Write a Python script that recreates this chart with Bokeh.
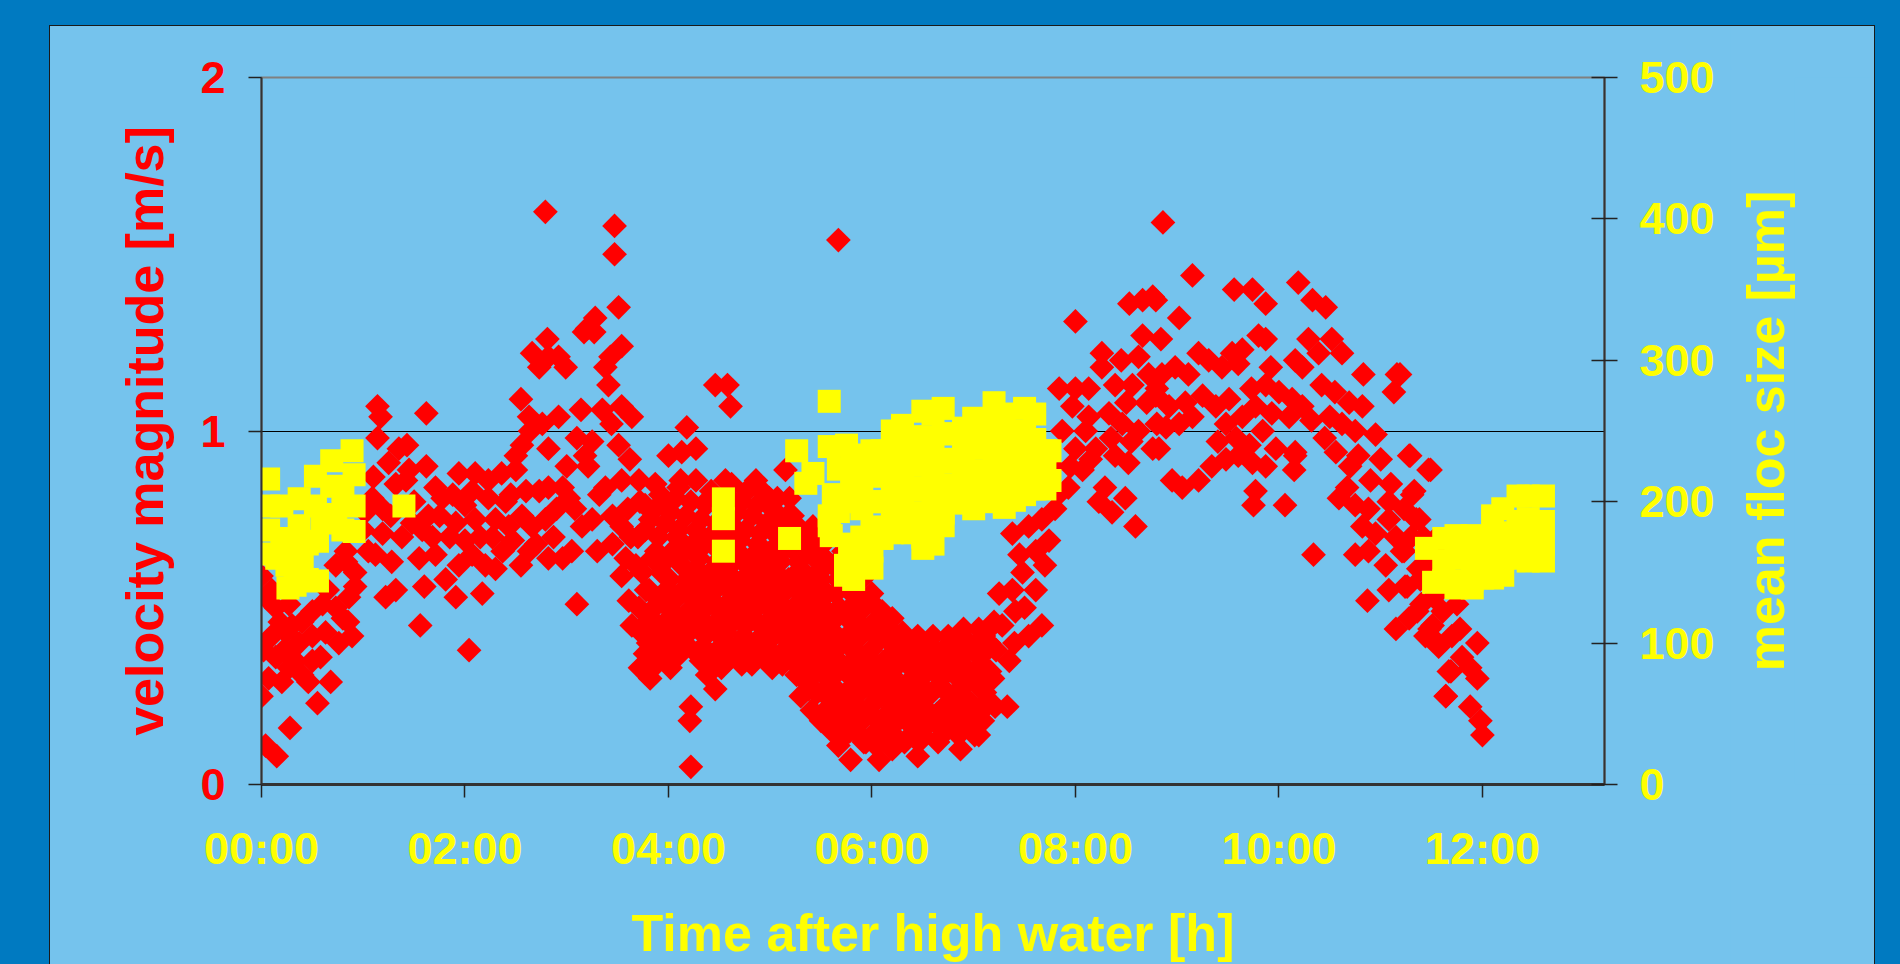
import math
from bokeh.plotting import figure
from bokeh.layouts import row, column
from bokeh.models import Range1d, LinearAxis, FixedTicker
from bokeh.embed import file_html
from bokeh.resources import INLINE

# ---------------- data ----------------
x_tick_hours = [0, 2, 4, 6, 8, 10, 12]
x_tick_labels = ["00:00", "02:00", "04:00", "06:00", "08:00", "10:00", "12:00"]
vel_ticks = [0, 1, 2]
floc_ticks = [0, 100, 200, 300, 400, 500]

# velocity magnitude [m/s] vs time after high water [h]
red_hours = [
    0.00, 0.04, 0.14, 0.27, 0.40, 0.50, 0.60, 0.73, 0.86, 0.73,
    0.83, 0.10, 0.24, 0.37, 0.50, 0.63, 0.76, 0.89, 0.14, 0.27,
    0.40, 0.07, 0.00, 0.20, 0.33, 0.46, 0.68, 0.55, 0.28, 0.04,
    0.15, 0.02, 0.18, 0.30, 0.58, 0.85, 0.92, 0.65, 0.10, 0.22,
    1.14, 1.17, 1.62, 1.14, 1.35, 1.43, 1.25, 1.32, 1.42, 1.09,
    1.19, 1.62, 1.71, 1.78, 1.64, 1.48, 1.58, 1.94, 2.10, 2.23,
    2.36, 2.50, 2.07, 2.23, 2.00, 1.91, 2.10, 2.30, 2.43, 2.56,
    2.66, 2.79, 2.73, 2.82, 1.71, 1.94, 2.07, 2.30, 2.63, 2.82,
    2.37, 1.81, 1.91, 2.17, 1.60, 1.32, 1.22, 1.28, 0.92, 1.12,
    1.19, 0.83, 1.56, 2.04, 1.00, 1.05, 1.10, 1.27, 1.38, 1.50,
    1.55, 1.68, 1.85, 1.88, 2.00, 2.15, 2.20, 2.27, 2.40, 2.47,
    2.55, 2.60, 2.70, 2.87, 2.90, 2.55, 2.63, 2.56, 2.64, 2.76,
    2.82, 2.50, 2.66, 2.73, 2.82, 2.81, 2.79,
    3.47, 3.47, 3.51, 3.28, 3.20, 3.17, 3.27, 3.54, 3.43, 3.38,
    3.41, 2.99, 2.92, 2.92, 3.14, 3.35, 3.54, 3.64, 3.44, 3.51,
    3.18, 3.21, 2.96, 3.02, 3.15, 3.32, 3.38, 3.54, 3.71, 3.87,
    4.00, 4.13, 4.27, 3.77, 3.97, 4.10, 4.27, 4.56, 4.86, 5.15,
    4.99, 5.19, 2.96, 3.05, 3.54, 3.58, 3.54, 3.68, 3.10, 4.46,
    4.58, 4.61, 5.67, 4.18, 3.00, 3.08, 3.10, 3.25, 3.25, 3.30,
    3.45, 3.45, 3.60, 3.62,
    3.63, 3.61, 3.64,
    3.72, 3.70, 3.74, 3.71, 3.73, 3.72,
    3.82, 3.84, 3.81, 3.83, 3.80, 3.82,
    3.92, 3.90, 3.93, 3.91, 3.94, 3.92,
    4.02, 4.04, 4.01, 4.03, 4.00, 4.02,
    4.12, 4.10, 4.13, 4.11, 4.14, 4.12,
    4.22, 4.24, 4.21, 4.23, 4.20, 4.22, 4.21, 4.22,
    4.32, 4.30, 4.33, 4.31, 4.34, 4.32,
    4.42, 4.44, 4.41, 4.43, 4.40, 4.42, 4.46,
    4.52, 4.50, 4.53, 4.51, 4.54, 4.52,
    4.62, 4.64, 4.61, 4.63, 4.60, 4.62,
    4.72, 4.70, 4.73, 4.71, 4.74, 4.72,
    4.82, 4.84, 4.81, 4.83, 4.80, 4.82,
    4.92, 4.90, 4.93, 4.91, 4.94, 4.92,
    5.02, 5.04, 5.01, 5.03, 5.00, 5.02,
    5.12, 5.10, 5.13, 5.11, 5.14, 5.12,
    5.22, 5.24, 5.21, 5.23, 5.20, 5.22,
    5.32, 5.30, 5.33, 5.31, 5.34, 5.32, 5.30,
    5.42, 5.44, 5.41, 5.43, 5.40, 5.42, 5.41,
    5.52, 5.50, 5.53, 5.51, 5.54, 5.52, 5.50,
    5.62, 5.64, 5.61, 5.63, 5.60, 5.62, 5.61,
    5.72, 5.70, 5.73, 5.71, 5.74, 5.72, 5.70,
    5.80, 5.82, 5.79, 5.81, 5.78, 5.80, 5.79,
    3.77, 3.78, 3.76, 3.77,
    3.87, 3.88, 3.86, 3.87, 3.88,
    3.97, 3.96, 3.98, 3.97, 3.96,
    4.07, 4.08, 4.06, 4.07, 4.08,
    4.17, 4.16, 4.18, 4.17, 4.16,
    4.27, 4.28, 4.26, 4.27, 4.28,
    4.37, 4.36, 4.38, 4.37, 4.36, 4.38,
    4.47, 4.48, 4.46, 4.47, 4.48,
    4.57, 4.56, 4.58, 4.57, 4.56, 4.58,
    4.67, 4.68, 4.66, 4.67, 4.68,
    4.77, 4.76, 4.78, 4.77, 4.76, 4.78,
    4.87, 4.88, 4.86, 4.87, 4.88,
    4.97, 4.96, 4.98, 4.97, 4.96,
    5.07, 5.08, 5.06, 5.07, 5.08, 5.06,
    5.17, 5.16, 5.18, 5.17, 5.16,
    5.27, 5.28, 5.26, 5.27, 5.28, 5.26,
    5.37, 5.36, 5.38, 5.37, 5.36, 5.38,
    5.47, 5.48, 5.46, 5.47, 5.48, 5.46,
    5.57, 5.56, 5.58, 5.57, 5.56, 5.58,
    5.67, 5.68, 5.66, 5.67, 5.68, 5.66, 5.67,
    5.77, 5.76, 5.78, 5.77, 5.76, 5.78,
    5.90, 5.92, 5.89, 5.91, 5.88, 5.90, 5.92,
    6.00, 6.02, 5.99, 6.01, 5.98, 6.00,
    6.10, 6.08, 6.11, 6.09, 6.12, 6.07,
    6.20, 6.22, 6.19, 6.21, 6.18, 6.20,
    6.30, 6.28, 6.31, 6.29, 6.32,
    6.40, 6.42, 6.39, 6.41,
    6.50, 6.48, 6.51, 6.49, 6.45,
    6.60, 6.62, 6.59, 6.61,
    6.70, 6.68, 6.71, 6.69,
    6.80, 6.82, 6.79, 6.81,
    6.90, 6.88, 6.91, 6.89, 6.87,
    7.00, 7.02, 6.99, 7.01,
    7.10, 7.08, 7.11, 7.09,
    7.20, 7.22, 7.19, 7.21,
    5.85, 5.86, 5.84, 5.85, 5.86, 5.84,
    5.95, 5.96, 5.94, 5.95, 5.96, 5.94,
    6.05, 6.06, 6.04, 6.05, 6.06, 6.04,
    6.15, 6.16, 6.14, 6.15, 6.16,
    6.25, 6.26, 6.24, 6.25, 6.26,
    6.35, 6.36, 6.34, 6.35,
    6.45, 6.46, 6.44, 6.45, 6.46,
    6.55, 6.56, 6.54, 6.55,
    6.65, 6.66, 6.64, 6.65,
    6.75, 6.76, 6.74, 6.75,
    6.85, 6.86, 6.84, 6.85,
    6.95, 6.96, 6.94, 6.95,
    7.05, 7.06, 7.04, 7.05,
    7.15, 7.16, 7.14,
    7.25, 7.38, 7.48, 7.61, 7.67, 7.54, 7.28, 7.15, 7.41, 7.38,
    7.54, 7.67, 7.74, 7.61, 7.80, 7.83, 7.93, 7.33, 7.05, 7.45,
    7.50, 7.70, 7.78, 7.35, 7.40,
    8.00, 8.66, 8.76, 8.53, 8.26, 8.26, 8.66, 8.62, 8.39, 8.56,
    8.72, 7.84, 8.00, 8.13, 7.97, 8.13, 8.33, 8.46, 8.62, 8.76,
    7.87, 8.00, 8.20, 8.39, 8.52, 8.07, 8.29, 8.23, 8.36, 8.49,
    8.59, 8.10, 8.45, 8.50, 8.70, 8.35, 8.55, 8.15, 7.95, 8.80,
    8.80,
    8.86, 9.15, 9.56, 9.74, 9.87, 10.19, 10.33, 10.46, 9.02, 8.79,
    8.84, 9.21, 9.54, 9.64, 9.80, 9.87, 9.92, 10.16, 10.23, 10.29,
    10.39, 10.52, 10.62, 10.83, 11.16, 11.13, 8.85, 8.98, 9.11, 9.31,
    9.44, 9.60, 9.73, 9.87, 10.00, 10.13, 10.42, 10.55, 10.69, 10.82,
    8.79, 8.92, 9.08, 9.25, 9.38, 9.51, 9.64, 9.77, 9.93, 10.10,
    10.23, 10.32, 10.50, 10.62, 10.75, 10.95, 8.89, 9.02, 9.15, 9.48,
    9.58, 9.71, 9.84, 9.97, 10.16, 10.56, 10.78, 8.82, 8.95, 9.05,
    9.21, 9.34, 9.48, 9.60, 9.74, 9.87, 10.16, 10.15, 9.77, 9.75,
    10.06,
    10.67, 10.59, 10.75, 10.88, 11.08, 11.28, 11.47, 11.31, 11.35, 10.82,
    10.95, 11.08, 11.15, 11.21, 11.05, 10.75, 10.34, 10.88, 11.08, 11.24,
    11.37, 11.40, 11.28, 11.15, 10.87, 11.51, 11.61, 11.57, 11.67, 11.64,
    11.44,
    11.19, 11.29, 11.49, 11.33, 11.38, 11.23, 11.23, 11.52, 11.26, 11.39,
    11.36, 11.52, 11.75, 11.48, 11.56, 11.78, 11.95, 11.69, 11.88, 11.95,
    11.64, 11.88, 11.98, 12.00,
    10.45, 10.70, 10.90, 11.00, 11.10, 11.30, 11.45, 11.55, 11.65, 11.70,
    11.80, 11.42, 11.60,
    0.50, 0.80, 1.02, 1.45, 1.75, 2.45, 3.88, 4.07, 4.37, 4.77,
    5.07, 5.27, 5.47, 5.67, 5.95, 6.25, 6.55, 6.85, 7.15, 9.40,
]
red_velocity = [
    0.59, 0.53, 0.50, 0.51, 0.46, 0.49, 0.51, 0.50, 0.53, 0.62,
    0.63, 0.42, 0.43, 0.40, 0.42, 0.43, 0.40, 0.42, 0.36, 0.33,
    0.31, 0.30, 0.25, 0.29, 0.35, 0.29, 0.29, 0.23, 0.16, 0.11,
    0.08, 0.38, 0.46, 0.45, 0.36, 0.46, 0.56, 0.55, 0.55, 0.38,
    1.07, 1.04, 1.05, 0.98, 0.95, 0.96, 0.91, 0.85, 0.86, 0.81,
    0.78, 0.90, 0.84, 0.81, 0.76, 0.74, 0.72, 0.88, 0.88, 0.86,
    0.88, 0.89, 0.83, 0.81, 0.79, 0.74, 0.75, 0.75, 0.73, 0.76,
    0.73, 0.75, 0.83, 0.84, 0.65, 0.62, 0.65, 0.61, 0.66, 0.64,
    0.66, 0.58, 0.53, 0.54, 0.56, 0.55, 0.53, 0.63, 0.60, 0.65,
    0.71, 0.66, 0.45, 0.38, 0.72, 0.66, 0.87, 0.76, 0.70, 0.80,
    0.64, 0.70, 0.70, 0.82, 0.69, 0.70, 0.62, 0.70, 0.80, 0.69,
    0.62, 0.83, 0.68, 0.70, 0.78, 1.09, 1.04, 0.96, 1.00, 1.02,
    0.95, 0.93, 1.22, 1.18, 1.21, 1.26, 1.62,
    1.58, 1.50, 1.35, 1.32, 1.29, 1.28, 1.28, 1.24, 1.21, 1.18,
    1.13, 1.18, 1.21, 1.04, 1.06, 1.06, 1.07, 1.04, 1.02, 0.96,
    0.93, 0.90, 0.84, 0.81, 0.73, 0.82, 0.84, 0.86, 0.86, 0.85,
    0.93, 0.94, 0.95, 0.79, 0.79, 0.84, 0.86, 0.86, 0.86, 0.89,
    0.81, 0.81, 0.64, 0.66, 0.73, 0.64, 0.59, 0.62, 0.51, 1.13,
    1.13, 1.07, 1.54, 1.01, 0.90, 0.78, 0.98, 0.75, 0.97, 0.66,
    0.76, 0.68, 0.78, 0.92,
    0.70, 0.52, 0.45,
    0.80, 0.70, 0.60, 0.50, 0.43, 0.33,
    0.75, 0.64, 0.55, 0.47, 0.40, 0.30,
    0.82, 0.70, 0.60, 0.52, 0.44, 0.36,
    0.77, 0.66, 0.58, 0.49, 0.41, 0.33,
    0.86, 0.72, 0.62, 0.54, 0.46, 0.38,
    0.80, 0.68, 0.57, 0.50, 0.43, 0.22, 0.18, 0.05,
    0.75, 0.64, 0.55, 0.47, 0.39, 0.35,
    0.83, 0.71, 0.60, 0.52, 0.44, 0.36, 0.27,
    0.78, 0.66, 0.57, 0.49, 0.41, 0.33,
    0.85, 0.73, 0.62, 0.54, 0.45, 0.37,
    0.80, 0.69, 0.58, 0.50, 0.42, 0.34,
    0.76, 0.65, 0.55, 0.47, 0.39, 0.34,
    0.83, 0.71, 0.61, 0.52, 0.44, 0.36,
    0.78, 0.67, 0.57, 0.49, 0.41, 0.33,
    0.72, 0.63, 0.54, 0.46, 0.38, 0.34,
    0.76, 0.66, 0.58, 0.50, 0.42, 0.35,
    0.70, 0.61, 0.53, 0.45, 0.37, 0.30, 0.25,
    0.73, 0.64, 0.55, 0.47, 0.39, 0.31, 0.21,
    0.68, 0.58, 0.50, 0.42, 0.34, 0.26, 0.18,
    0.62, 0.54, 0.46, 0.38, 0.30, 0.22, 0.15,
    0.66, 0.57, 0.48, 0.40, 0.32, 0.23, 0.13,
    0.60, 0.51, 0.43, 0.35, 0.27, 0.19, 0.07,
    0.72, 0.55, 0.45, 0.37,
    0.78, 0.66, 0.50, 0.42, 0.34,
    0.74, 0.63, 0.55, 0.46, 0.38,
    0.81, 0.70, 0.52, 0.44, 0.36,
    0.76, 0.66, 0.58, 0.48, 0.40,
    0.72, 0.61, 0.52, 0.45, 0.37,
    0.79, 0.68, 0.58, 0.50, 0.42, 0.31,
    0.74, 0.63, 0.55, 0.46, 0.38,
    0.82, 0.70, 0.60, 0.51, 0.43, 0.35,
    0.77, 0.66, 0.56, 0.47, 0.39,
    0.83, 0.72, 0.62, 0.53, 0.45, 0.37,
    0.79, 0.68, 0.58, 0.50, 0.41,
    0.74, 0.64, 0.55, 0.46, 0.38,
    0.81, 0.70, 0.60, 0.52, 0.44, 0.36,
    0.76, 0.67, 0.58, 0.49, 0.41,
    0.73, 0.63, 0.55, 0.47, 0.39, 0.31,
    0.66, 0.57, 0.49, 0.41, 0.33, 0.27,
    0.69, 0.60, 0.51, 0.43, 0.35, 0.26,
    0.63, 0.54, 0.46, 0.38, 0.30, 0.22,
    0.58, 0.50, 0.42, 0.34, 0.26, 0.18, 0.11,
    0.55, 0.47, 0.39, 0.31, 0.23, 0.15,
    0.58, 0.50, 0.42, 0.34, 0.26, 0.18, 0.12,
    0.54, 0.46, 0.38, 0.30, 0.22, 0.14,
    0.49, 0.41, 0.33, 0.25, 0.17, 0.07,
    0.47, 0.39, 0.31, 0.23, 0.15, 0.10,
    0.43, 0.35, 0.27, 0.19, 0.12,
    0.40, 0.32, 0.24, 0.16,
    0.38, 0.30, 0.22, 0.14, 0.08,
    0.42, 0.34, 0.26, 0.18,
    0.38, 0.30, 0.22, 0.14,
    0.41, 0.33, 0.25, 0.17,
    0.44, 0.36, 0.28, 0.20, 0.10,
    0.38, 0.30, 0.22, 0.14,
    0.42, 0.34, 0.26, 0.18,
    0.46, 0.38, 0.30, 0.22,
    0.54, 0.46, 0.38, 0.30, 0.22, 0.15,
    0.52, 0.44, 0.36, 0.28, 0.20, 0.12,
    0.50, 0.42, 0.34, 0.26, 0.18, 0.11,
    0.44, 0.36, 0.28, 0.20, 0.12,
    0.42, 0.34, 0.26, 0.18, 0.12,
    0.38, 0.29, 0.21, 0.13,
    0.42, 0.35, 0.27, 0.19, 0.12,
    0.40, 0.33, 0.25, 0.17,
    0.36, 0.28, 0.20, 0.12,
    0.42, 0.34, 0.26, 0.18,
    0.38, 0.30, 0.22, 0.14,
    0.40, 0.32, 0.24, 0.17,
    0.44, 0.36, 0.28, 0.20,
    0.40, 0.32, 0.24,
    0.54, 0.55, 0.60, 0.55, 0.45, 0.42, 0.45, 0.44, 0.49, 0.71,
    0.73, 0.75, 0.69, 0.66, 0.78, 0.82, 0.84, 0.22, 0.14, 0.65,
    0.50, 0.62, 0.90, 0.35, 0.40,
    1.31, 1.37, 1.38, 1.36, 1.22, 1.18, 1.27, 1.21, 1.13, 1.13,
    1.16, 1.12, 1.12, 1.12, 1.07, 1.04, 1.05, 1.02, 1.00, 0.95,
    1.00, 0.95, 0.95, 0.93, 0.91, 0.89, 0.84, 0.80, 0.77, 0.81,
    0.73, 1.00, 1.20, 1.08, 1.08, 0.98, 0.97, 0.92, 0.90, 1.12,
    1.02,
    1.59, 1.44, 1.40, 1.40, 1.36, 1.42, 1.37, 1.35, 1.32, 1.37,
    1.26, 1.22, 1.22, 1.23, 1.27, 1.26, 1.18, 1.20, 1.18, 1.26,
    1.22, 1.26, 1.22, 1.16, 1.16, 1.11, 1.16, 1.18, 1.16, 1.20,
    1.18, 1.19, 1.12, 1.13, 1.11, 1.09, 1.13, 1.11, 1.08, 1.07,
    1.10, 1.07, 1.08, 1.10, 1.07, 1.09, 1.04, 1.07, 1.05, 1.04,
    1.07, 1.03, 1.04, 1.02, 1.00, 0.99, 1.01, 1.02, 1.04, 1.02,
    0.98, 0.96, 1.00, 0.95, 0.94, 0.94, 0.93, 0.95, 0.86, 0.84,
    0.86, 0.90, 0.92, 0.93, 0.91, 0.90, 0.93, 0.89, 0.83, 0.79,
    0.79,
    0.84, 0.81, 0.79, 0.78, 0.80, 0.93, 0.89, 0.82, 0.75, 0.73,
    0.71, 0.75, 0.70, 0.66, 0.62, 0.65, 0.65, 0.66, 0.55, 0.56,
    0.61, 0.51, 0.47, 0.44, 0.52, 0.45, 0.49, 0.39, 0.32, 0.25,
    0.42,
    1.16, 0.93, 0.89, 0.83, 0.75, 0.78, 0.66, 0.69, 0.56, 0.58,
    0.49, 0.53, 0.51, 0.44, 0.40, 0.44, 0.40, 0.32, 0.33, 0.30,
    0.25, 0.22, 0.18, 0.14,
    0.98, 0.90, 0.86, 0.92, 0.85, 0.70, 0.62, 0.58, 0.56, 0.42,
    0.36, 0.70, 0.65,
    0.35, 0.47, 0.77, 0.89, 0.76, 0.82, 0.65, 0.53, 0.80, 0.62,
    0.73, 0.45, 0.60, 0.35, 0.31, 0.28, 0.26, 0.30, 0.31, 0.97,
]

# mean floc size [um] vs time after high water [h]
yellow_hours = [
    0.07, 0.07, 0.07, 0.07, 0.20, 0.20, 0.25, 0.26, 0.37, 0.37,
    0.40, 0.53, 0.53, 0.55, 0.55, 0.69, 0.69, 0.73, 0.89, 0.91,
    0.91, 0.91, 1.40, 0.15, 0.30, 0.45, 0.60, 0.80, 0.80, 0.45,
    0.33,
    4.54, 4.54, 4.54, 5.19, 5.26, 5.42, 5.35, 5.58, 5.58, 5.67,
    5.67, 5.58, 5.74, 5.74, 5.62, 5.78, 5.80, 5.80, 5.58, 5.60,
    5.82, 5.82, 5.80, 5.75,
    5.90, 5.90, 5.90, 5.90, 5.90,
    6.00, 6.00, 6.00, 6.00, 6.00, 6.00,
    6.10, 6.10, 6.10, 6.10, 6.10,
    6.20, 6.20, 6.20, 6.20, 6.20,
    6.30, 6.30, 6.30, 6.30, 6.30,
    6.40, 6.40, 6.40, 6.40, 6.40,
    6.50, 6.50, 6.50, 6.50, 6.50, 6.50, 6.50,
    6.60, 6.60, 6.60, 6.60, 6.60, 6.60,
    6.70, 6.70, 6.70, 6.70, 6.70, 6.70,
    6.80, 6.80, 6.80, 6.80,
    6.90, 6.90, 6.90, 6.90,
    7.00, 7.00, 7.00, 7.00, 7.00,
    7.10, 7.10, 7.10, 7.10,
    7.20, 7.20, 7.20, 7.20, 7.20,
    7.30, 7.30, 7.30, 7.30, 7.30,
    7.40, 7.40, 7.40, 7.40,
    7.50, 7.50, 7.50, 7.50, 7.50,
    7.60, 7.60, 7.60, 7.60,
    7.70, 7.70, 7.70,
    7.75, 7.75,
    11.45, 11.52, 11.62, 11.62, 11.62, 11.74, 11.74, 11.74, 11.74, 11.90,
    11.90, 11.90, 11.90, 12.00, 12.00, 12.00, 12.10, 12.10, 12.10, 12.10,
    12.20, 12.20, 12.20, 12.20, 12.35, 12.35, 12.35, 12.35, 12.45, 12.45,
    12.45, 12.45, 12.60, 12.60, 12.60, 12.60,
]
yellow_floc = [
    216, 197, 180, 163, 197, 174, 155, 139, 202, 183,
    158, 218, 197, 172, 144, 229, 211, 191, 236, 219,
    197, 179, 197, 160, 170, 170, 185, 205, 180, 145,
    141,
    202, 188, 165, 174, 236, 220, 213, 271, 239, 223,
    193, 183, 155, 148, 205, 170, 200, 230, 190, 176,
    145, 160, 215, 240,
    233, 215, 195, 175, 158,
    236, 218, 200, 182, 165, 153,
    236, 220, 200, 182, 174,
    250, 230, 212, 195, 178,
    254, 236, 218, 200, 182,
    244, 226, 208, 190, 178,
    264, 246, 228, 210, 192, 175, 167,
    262, 242, 224, 205, 187, 170,
    266, 248, 228, 210, 192, 183,
    248, 230, 212, 199,
    252, 235, 218, 201,
    259, 240, 222, 205, 195,
    255, 238, 220, 203,
    270, 252, 234, 216, 200,
    262, 245, 228, 210, 196,
    250, 232, 215, 201,
    266, 248, 230, 212, 205,
    262, 244, 226, 209,
    236, 222, 209,
    236, 215,
    167, 143, 174, 158, 144, 176, 160, 144, 139, 176,
    160, 145, 139, 174, 160, 146, 190, 172, 155, 146,
    195, 178, 162, 148, 204, 186, 170, 160, 204, 188,
    172, 158, 204, 186, 170, 158,
]

assert len(red_hours) == len(red_velocity), (len(red_hours), len(red_velocity))
assert len(yellow_hours) == len(yellow_floc), (len(yellow_hours), len(yellow_floc))

# ---------------- style / layout ----------------
OUTER = "#007AC1"
PANEL = "#75C3ED"
RED = "#FF0000"
YELLOW = "#FFFF00"
FONT = "Liberation Sans"
TICK_FS = "45px"
TITLE_FS = "52px"

# page geometry: light panel spans x 50..1874, y 26..bottom
MAIN_W, SIDE_W, FIG_H = 1680, 144, 938
BORDER_TOP, BORDER_BOTTOM = 51, 178

p_main = figure(width=MAIN_W, height=FIG_H, output_backend="svg", toolbar_location=None,
                x_range=Range1d(0, 13.2), y_range=Range1d(0, 2),
                min_border_left=211, min_border_right=126,
                min_border_top=BORDER_TOP, min_border_bottom=BORDER_BOTTOM,
                border_fill_color=PANEL, background_fill_color=PANEL,
                outline_line_color="#808080", outline_line_width=2)
p_main.extra_y_ranges = {"floc": Range1d(0, 500)}

p_main.xgrid.visible = False
p_main.ygrid.ticker = FixedTicker(ticks=[1])
p_main.ygrid.grid_line_color = "#000000"
p_main.ygrid.grid_line_width = 1


def style_axis(ax, color, tick_in, tick_out, label_standoff, title_standoff):
    ax.major_label_text_color = color
    ax.major_label_text_font = FONT
    ax.major_label_text_font_style = "bold"
    ax.major_label_text_font_size = TICK_FS
    ax.axis_label_text_color = color
    ax.axis_label_text_font = FONT
    ax.axis_label_text_font_style = "bold"
    ax.axis_label_text_font_size = TITLE_FS
    ax.axis_line_color = "#333333"
    ax.axis_line_width = 2
    ax.major_tick_line_color = "#222222"
    ax.major_tick_line_width = 1.5
    ax.major_tick_in = tick_in
    ax.major_tick_out = tick_out
    ax.minor_tick_line_color = None
    ax.major_label_standoff = label_standoff
    ax.axis_label_standoff = title_standoff


xax = p_main.xaxis[0]
xax.ticker = FixedTicker(ticks=x_tick_hours)
xax.major_label_overrides = {int(h): lab for h, lab in zip(x_tick_hours, x_tick_labels)}
xax.axis_label = "Time after high water [h]"
style_axis(xax, YELLOW, 0, 13, 25, 27)
xax.axis_line_width = 3

yax = p_main.yaxis[0]
yax.ticker = FixedTicker(ticks=vel_ticks)
yax.axis_label = "velocity magnitude [m/s]"
style_axis(yax, RED, 0, 13, 23, 23)

rax = LinearAxis(y_range_name="floc", ticker=FixedTicker(ticks=floc_ticks))
style_axis(rax, YELLOW, 13, 13, 22, 0)
p_main.add_layout(rax, "right")

p_main.scatter(red_hours, red_velocity, marker="square", angle=math.pi / 4, size=17.5,
               fill_color=RED, line_color=None)
p_main.scatter(yellow_hours, yellow_floc, y_range_name="floc", marker="square", size=23,
               fill_color=YELLOW, line_color=None)

# narrow companion figure that carries the right-hand title (reads bottom-to-top)
p_side = figure(width=SIDE_W, height=FIG_H, output_backend="svg", toolbar_location=None,
                x_range=Range1d(0, 1), y_range=Range1d(0, 500),
                min_border_left=64, min_border_right=0,
                min_border_top=BORDER_TOP, min_border_bottom=BORDER_BOTTOM,
                border_fill_color=PANEL, background_fill_color=None,
                outline_line_color=None)
p_side.xaxis.visible = False
p_side.grid.visible = False
sax = p_side.yaxis[0]
sax.ticker = FixedTicker(ticks=[])
sax.axis_label = "mean floc size [µm]"
style_axis(sax, YELLOW, 0, 0, 0, 0)
sax.axis_line_color = None
sax.major_label_text_font_size = "0px"

inner = row(p_main, p_side, styles={"border": "1px solid #1a1a1a", "border-bottom": "none",
                                    "background-color": PANEL})
p = column(inner, styles={"background-color": OUTER, "padding": "25px 25px 0px 49px"})

open("out.html", "w").write(file_html(p, INLINE))
